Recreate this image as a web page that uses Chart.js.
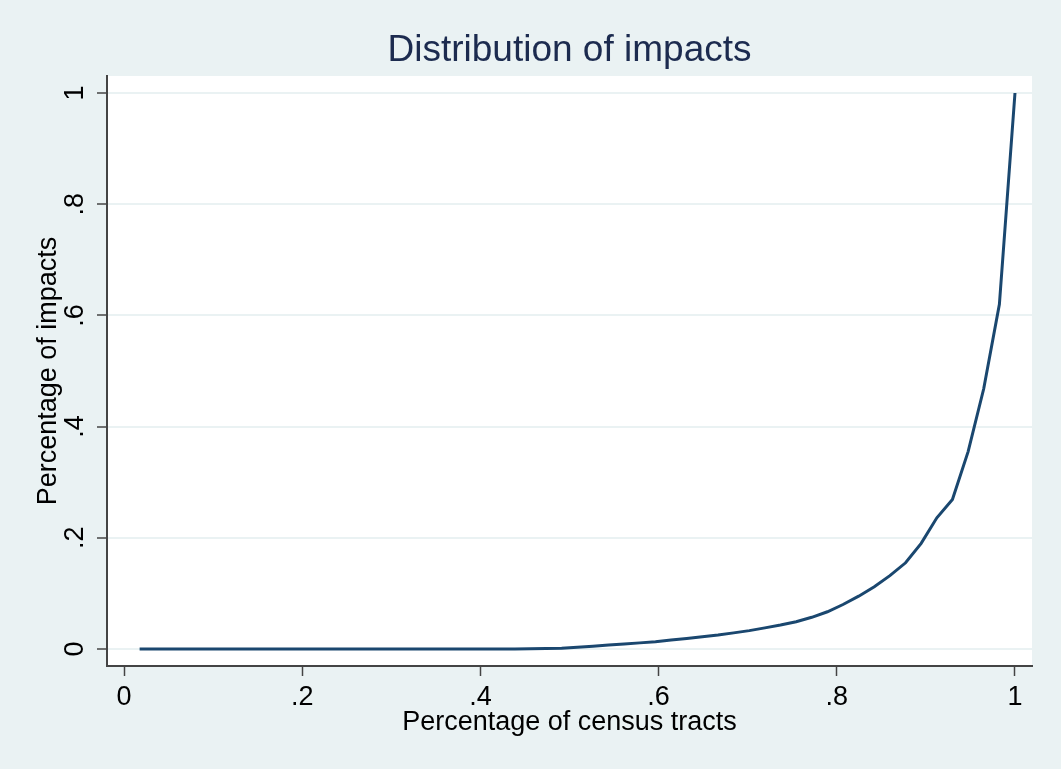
<!DOCTYPE html>
<html>
<head>
<meta charset="utf-8">
<script src="https://cdn.jsdelivr.net/npm/chart.js@4/dist/chart.umd.min.js"></script>
<style>
  body { margin: 0; background: #eaf2f3; }
  #wrap { width: 1061px; height: 769px; }
</style>
</head>
<body>
<div id="wrap"><canvas id="impactChart" width="1061" height="769"></canvas></div>
<script>
// share of census tracts (x) and cumulative share of impacts (y)
const tractShare = [
  0.0175, 0.0351, 0.0526, 0.0702, 0.0877, 0.1053, 0.1228, 0.1404, 0.1579, 0.1754,
  0.1930, 0.2105, 0.2281, 0.2456, 0.2632, 0.2807, 0.2982, 0.3158, 0.3333, 0.3509,
  0.3684, 0.3860, 0.4035, 0.4211, 0.4386, 0.4561, 0.4737, 0.4912, 0.5088, 0.5263,
  0.5439, 0.5614, 0.5789, 0.5965, 0.6140, 0.6316, 0.6491, 0.6667, 0.6842, 0.7018,
  0.7193, 0.7368, 0.7544, 0.7719, 0.7895, 0.8070, 0.8246, 0.8421, 0.8596, 0.8772,
  0.8947, 0.9123, 0.9298, 0.9474, 0.9649, 0.9825, 1.0
];
const impactShare = [
  0, 0, 0, 0, 0, 0, 0, 0, 0, 0,
  0, 0, 0, 0, 0, 0, 0, 0, 0, 0,
  0, 0, 0, 0, 0, 0.0005, 0.001, 0.0015, 0.003, 0.005,
  0.007, 0.009, 0.011, 0.013, 0.016, 0.019, 0.022, 0.025, 0.029, 0.033,
  0.038, 0.043, 0.049, 0.057, 0.067, 0.080, 0.095, 0.112, 0.132, 0.155,
  0.190, 0.236, 0.269, 0.355, 0.468, 0.620, 1.0
];
const xTicks = [0, 0.2, 0.4, 0.6, 0.8, 1];
const xTickLabels = ['0', '.2', '.4', '.6', '.8', '1'];
const yTicks = [0, 0.2, 0.4, 0.6, 0.8, 1];
const yTickLabels = ['0', '.2', '.4', '.6', '.8', '1'];
const chartTitle = 'Distribution of impacts';

const FONT = "'Liberation Sans', Arial, sans-serif";
const BG = '#eaf2f3';
const AXIS = '#444444';

const points = tractShare.map((x, i) => ({x: x, y: impactShare[i]}));

// paint outer background and white plot region
const backdrop = {
  id: 'backdrop',
  beforeDraw(chart) {
    const {ctx, chartArea: a} = chart;
    ctx.save();
    ctx.fillStyle = BG;
    ctx.fillRect(0, 0, chart.width, chart.height);
    ctx.fillStyle = '#ffffff';
    ctx.fillRect(a.left, a.top, a.right - a.left, a.bottom - a.top);
    ctx.restore();
  }
};

// title centred over the plot region, stata-style vertical y tick labels
const decorations = {
  id: 'decorations',
  afterDraw(chart) {
    const {ctx, chartArea: a} = chart;
    const y = chart.scales.y;
    ctx.save();
    ctx.fillStyle = '#1c2b4f';
    ctx.font = '37px ' + FONT;
    ctx.textAlign = 'center';
    ctx.textBaseline = 'middle';
    ctx.fillText(chartTitle, (a.left + a.right) / 2, 51);

    ctx.fillStyle = '#000';
    ctx.font = '27px ' + FONT;
    yTicks.forEach((v, i) => {
      ctx.save();
      ctx.translate(76, y.getPixelForValue(v));
      ctx.rotate(-Math.PI / 2);
      ctx.fillText(yTickLabels[i], 0, 0);
      ctx.restore();
    });
    ctx.restore();
  }
};

new Chart(document.getElementById('impactChart'), {
  type: 'line',
  data: {
    datasets: [{
      data: points,
      borderColor: '#1a476f',
      borderWidth: 3,
      pointRadius: 0,
      tension: 0,
      fill: false
    }]
  },
  options: {
    responsive: false,
    animation: false,
    devicePixelRatio: 1,
    layout: { padding: { left: 0, right: 29, top: 76, bottom: 0 } },
    plugins: {
      legend: { display: false },
      tooltip: { enabled: false },
      title: { display: false }
    },
    scales: {
      x: {
        type: 'linear',
        min: -0.0191,
        max: 1.0191,
        afterBuildTicks: (s) => { s.ticks = xTicks.map(v => ({value: v})); },
        afterFit: (s) => { s.height = 103; },
        ticks: {
          autoSkip: false,
          maxRotation: 0,
          color: '#000',
          padding: 5,
          font: { family: FONT, size: 27 },
          callback: (v) => xTickLabels[xTicks.indexOf(v)]
        },
        grid: {
          drawOnChartArea: false,
          drawTicks: true,
          tickLength: 10,
          tickColor: AXIS,
          tickWidth: 1.5
        },
        border: { color: AXIS, width: 2 },
        title: {
          display: true,
          text: 'Percentage of census tracts',
          color: '#000',
          font: { family: FONT, size: 27 },
          padding: { top: 0, bottom: 30 }
        }
      },
      y: {
        type: 'linear',
        min: -0.0306,
        max: 1.0306,
        afterBuildTicks: (s) => { s.ticks = yTicks.map(v => ({value: v})); },
        afterFit: (s) => { s.width = 107; },
        ticks: { display: false },
        grid: {
          color: BG,
          lineWidth: 2,
          drawTicks: true,
          tickLength: 10,
          tickColor: AXIS,
          tickWidth: 1.5
        },
        border: { color: AXIS, width: 2 },
        title: {
          display: true,
          text: 'Percentage of impacts',
          color: '#000',
          font: { family: FONT, size: 27 },
          padding: { top: 32, bottom: 0 }
        }
      }
    }
  },
  plugins: [backdrop, decorations]
});
</script>
</body>
</html>
